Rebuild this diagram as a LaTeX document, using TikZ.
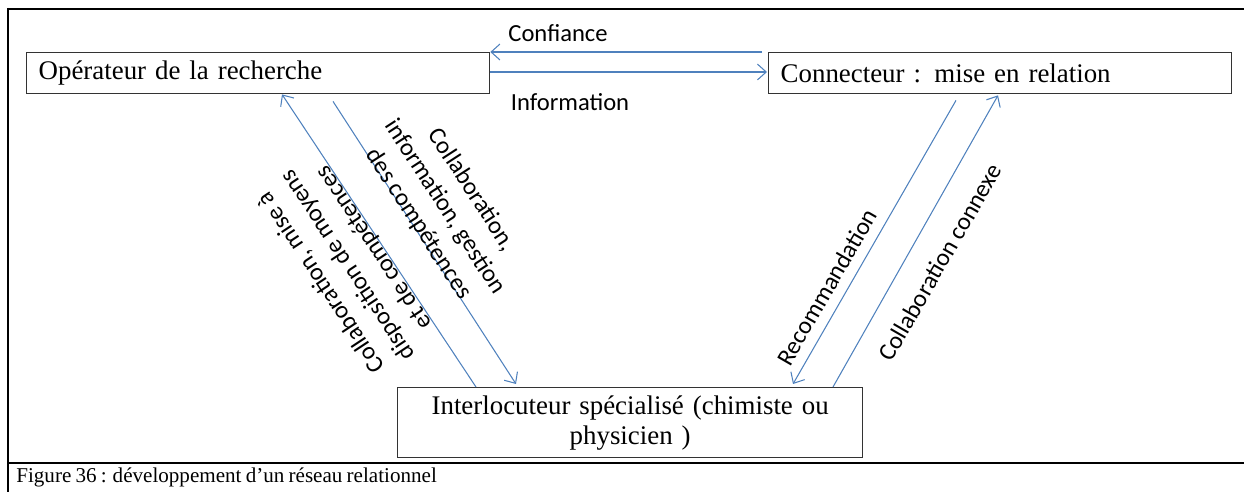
\documentclass[tikz,border=0pt]{standalone}
\usepackage{fontspec}
\setmainfont{Liberation Serif}[WordSpace=0.8]
\newfontfamily\calibri{Carlito}
\usetikzlibrary{arrows.meta,calc}
\definecolor{bleuword}{RGB}{79,129,189}

\begin{document}
\begin{tikzpicture}[x=0.02cm,y=-0.02cm]
\tikzstyle{relation}=[-{Straight Barb[length=5pt,width=9pt]},bleuword,line width=0.6pt]
\tikzset{acteur/.style={draw=black!80,line width=0.8pt,minimum height=0.82cm,text width=#1,inner xsep=0.24cm,font=\fontsize{15.3}{17}\selectfont},
acteur/.default={8.78cm}}
\tikzset{etiquette/.style={font=\calibri\fontsize{14}{18}\selectfont,align=center}}
\useasboundingbox (0,0) rectangle (1244,492);

% cadre
\draw[line width=1.2pt] (7,9) -- (1244,9);
\draw[line width=1.1pt] (8,8) -- (8,492);
\draw[line width=1.5pt] (8,463) -- (1244,463);

\node[acteur,align=left,anchor=north west] (A) at (26,52) {Opérateur de la recherche};
\node[acteur,align=left,anchor=north west] (B) at (768,52) {Connecteur : mise en relation};
\node[acteur=8.82cm,align=center,anchor=north west,minimum height=1.4cm] (C) at (397,387) {Interlocuteur spécialisé (chimiste ou\\physicien )};

\draw[relation] ($(B.north west)+(-6,0)$) -- (A.north east);
\draw[relation] ($(A.north east)+(0,20)$) -- ($(B.north west)+(-1,20)$);
\draw[relation] ($(C.north west)+(79,0)$) -- ($(A.south west)+(256,0)$);
\draw[relation] ($(A.south west)+(307,7)$) -- ($(C.north west)+(119,-3)$);
\draw[relation] ($(B.south west)+(188,6)$) -- ($(C.north west)+(396,-3)$);
\draw[relation] ($(C.north west)+(436,0)$) -- ($(B.south west)+(230,1)$);

\node[etiquette] (L1) at (558,33) {Confiance};
\node[etiquette] (L2) at (570,102) {Information};
\node[etiquette,rotate=-57] (L3) at (445,207) {Collaboration,\\information, gestion\\des compétences};
\node[etiquette,rotate=123.5] (L4) at (348,265) {Collaboration, mise à\\disposition de moyens\\et de compétences};
\node[etiquette,rotate=60] (L5) at (827,287) {Recommandation};
\node[etiquette,rotate=60] (L6) at (940,262) {Collaboration connexe};

\node[anchor=west,inner sep=0,font=\fontsize{12}{14}\selectfont] (F) at (16,477) {Figure 36 : développement d’un réseau relationnel};
\end{tikzpicture}
\end{document}
